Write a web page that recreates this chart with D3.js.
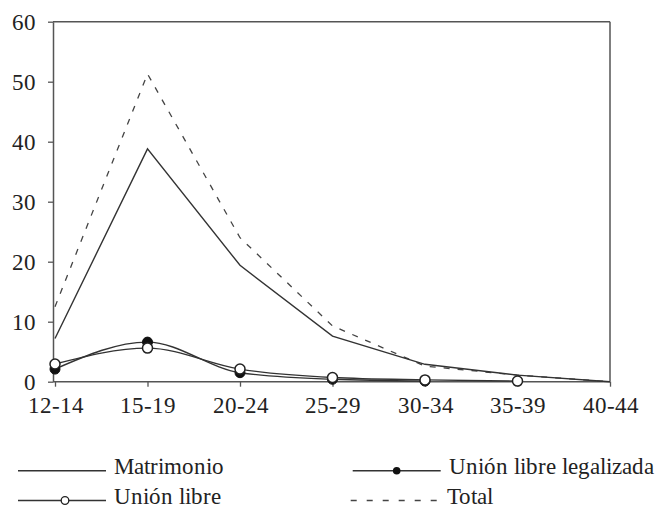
<!DOCTYPE html>
<html>
<head>
<meta charset="utf-8">
<script src="https://cdn.jsdelivr.net/npm/d3@7"></script>
<style>
  @font-face { font-family: "ChartSerif"; src: local("Liberation Serif"), local("LiberationSerif"), local("Liberation Serif Regular"), local("LiberationSerif-Regular"); }
  html, body { margin: 0; padding: 0; background: #fff; }
  svg { display: block; }
</style>
</head>
<body>
<svg id="chart" width="658" height="509"></svg>
<script>
const categories = ["12-14", "15-19", "20-24", "25-29", "30-34", "35-39", "40-44"];
const matrimonio = [7.2, 38.8, 19.4, 7.6, 2.9, 1.1, 0];
const unionLegalizada = [2.1, 6.6, 1.5, 0.4, 0.1, null, null];
const unionLibre = [2.95, 5.6, 2.1, 0.7, 0.3, 0.1, null];
const total = [12.5, 51.3, 24.0, 9.3, 2.6, 1.1, 0];
const yTicks = [0, 10, 20, 30, 40, 50, 60];
const seriesNames = ["Matrimonio", "Unión libre legalizada", "Unión libre", "Total"];

const FONT = "ChartSerif, 'Liberation Serif'";
const TEXT_COLOR = "#222";

const svg = d3.select("#chart");
const pLeft = 53, pRight = 610, pTop = 21.7, pBottom = 381.7;

const x = d3.scalePoint().domain(categories).range([55, 610]);
const y = d3.scaleLinear().domain([0, 60]).range([pBottom, pTop]);

const axisColor = "#555";
const lineColor = "#333";

function styleText(sel) {
  sel.attr("font-family", "Liberation Serif")
     .style("font-family", FONT, "important")
     .attr("font-size", 23).attr("fill", TEXT_COLOR);
}

// frame: top and right borders
svg.append("line").attr("x1", pLeft).attr("x2", pRight).attr("y1", pTop).attr("y2", pTop)
  .attr("stroke", axisColor).attr("stroke-width", 1.5);
svg.append("line").attr("x1", pRight).attr("x2", pRight).attr("y1", pTop).attr("y2", pBottom)
  .attr("stroke", axisColor).attr("stroke-width", 1.5);

// y axis
const yAxis = svg.append("g").attr("transform", `translate(${pLeft},0)`)
  .call(d3.axisLeft(y).tickValues(yTicks).tickSize(5).tickPadding(12).tickSizeOuter(0));
yAxis.attr("font-family", "Liberation Serif").attr("font-size", 23);
yAxis.select(".domain").attr("stroke", axisColor).attr("stroke-width", 1.5);
yAxis.selectAll(".tick line").attr("stroke", axisColor).attr("stroke-width", 1.3);
yAxis.selectAll("text").call(styleText);

// x axis
const xAxis = svg.append("g").attr("transform", `translate(0,${pBottom})`)
  .call(d3.axisBottom(x).tickSize(5).tickPadding(10).tickSizeOuter(0));
xAxis.attr("font-family", "Liberation Serif").attr("font-size", 23);
xAxis.select(".domain").attr("d", `M${pLeft},0H${pRight}`).attr("stroke", axisColor).attr("stroke-width", 1.5);
xAxis.selectAll(".tick line").attr("stroke", axisColor).attr("stroke-width", 1.3);
xAxis.selectAll("text").call(styleText);

function series(vals) {
  return categories.map((c, i) => ({ c, v: vals[i] }));
}

const straight = d3.line().defined(d => d.v != null).x(d => x(d.c)).y(d => y(d.v));
const smooth = d3.line().defined(d => d.v != null).x(d => x(d.c)).y(d => y(d.v)).curve(d3.curveMonotoneX);

svg.append("path").datum(series(total)).attr("d", straight)
  .attr("fill", "none").attr("stroke", "#444").attr("stroke-width", 1.3).attr("stroke-dasharray", "6,8");
svg.append("path").datum(series(matrimonio)).attr("d", straight)
  .attr("fill", "none").attr("stroke", lineColor).attr("stroke-width", 1.4);
svg.append("path").datum(series(unionLegalizada)).attr("d", smooth)
  .attr("fill", "none").attr("stroke", lineColor).attr("stroke-width", 1.4);
svg.append("path").datum(series(unionLibre)).attr("d", smooth)
  .attr("fill", "none").attr("stroke", lineColor).attr("stroke-width", 1.4);

svg.append("g").selectAll("circle").data(series(unionLegalizada).filter(d => d.v != null)).join("circle")
  .attr("cx", d => x(d.c)).attr("cy", d => y(d.v)).attr("r", 5)
  .attr("fill", "#111").attr("stroke", "#111").attr("stroke-width", 1);
svg.append("g").selectAll("circle").data(series(unionLibre).filter(d => d.v != null)).join("circle")
  .attr("cx", d => x(d.c)).attr("cy", d => y(d.v)).attr("r", 5)
  .attr("fill", "#fff").attr("stroke", "#222").attr("stroke-width", 1.5);

// legend
const legend = svg.append("g").attr("font-family", "Liberation Serif");
const legendItems = [
  { name: seriesNames[0], lx: 18, ly: 470.7, type: "plain" },
  { name: seriesNames[1], lx: 352.7, ly: 470.7, type: "filled" },
  { name: seriesNames[2], lx: 18, ly: 500.5, type: "open" },
  { name: seriesNames[3], lx: 350.7, ly: 500.5, type: "dash" }
];
legendItems.forEach(it => {
  const g = legend.append("g");
  const len = 88;
  g.append("line").attr("x1", it.lx).attr("x2", it.lx + len).attr("y1", it.ly).attr("y2", it.ly)
    .attr("stroke", it.type === "dash" ? "#444" : lineColor).attr("stroke-width", 1.4)
    .attr("stroke-dasharray", it.type === "dash" ? "6,10" : null);
  if (it.type === "filled") {
    g.append("circle").attr("cx", it.lx + len / 2).attr("cy", it.ly).attr("r", 3.8).attr("fill", "#111");
  } else if (it.type === "open") {
    g.append("circle").attr("cx", it.lx + len / 2 + 3).attr("cy", it.ly).attr("r", 3.8)
      .attr("fill", "#fff").attr("stroke", "#222").attr("stroke-width", 1.3);
  }
  g.append("text").attr("x", it.lx + len + 8).attr("y", it.ly + 3)
    .call(styleText)
    .text(it.name);
});
</script>
</body>
</html>
